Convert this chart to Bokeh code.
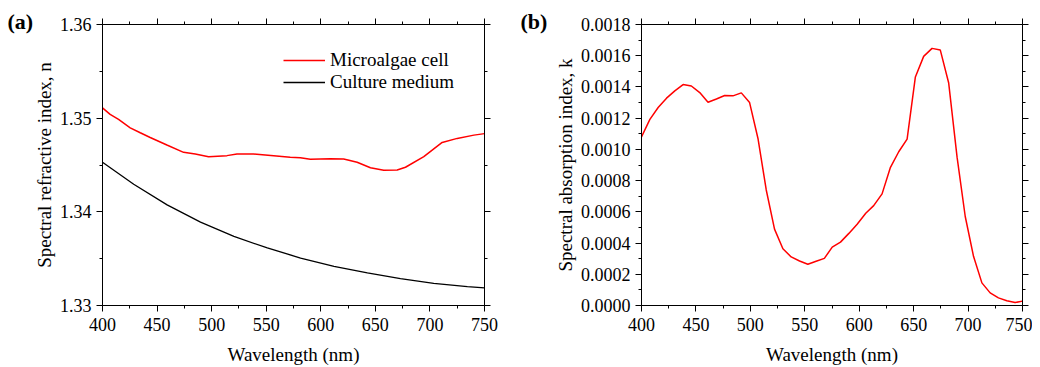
from bokeh.plotting import figure
from bokeh.models import (Range1d, LinearAxis, SingleIntervalTicker, NumeralTickFormatter,
                          CustomJSTickFormatter, Legend, LegendItem, Label)
from bokeh.layouts import row
from bokeh.embed import file_html
from bokeh.resources import INLINE

# ---- data: panel (a) spectral refractive index ----
wl_cell = [400, 407, 414.7, 425.4, 434.6, 443.7, 459, 474.3, 485, 497.2, 514, 523.2, 538.4,
           556.8, 572, 581.3, 590.4, 608.8, 621, 633.3, 645.5, 657.7, 670, 677.6, 694.4,
           711.2, 725, 740.3, 750]
n_cell = [1.3511, 1.3504, 1.34986, 1.34897, 1.34844, 1.34794, 1.34713, 1.34635, 1.34617,
          1.34589, 1.34600, 1.34617, 1.34617, 1.34600, 1.34582, 1.34578, 1.34561, 1.34567,
          1.34564, 1.34529, 1.34471, 1.34444, 1.34447, 1.34476, 1.34589, 1.34741, 1.34784,
          1.34819, 1.34835]

wl_medium = [400, 428.6, 459.2, 489.8, 520.4, 551, 581.5, 612.1, 642.7, 673, 703.5, 734.3, 750]
n_medium = [1.34529, 1.34295, 1.34074, 1.3389, 1.33737, 1.33614, 1.33507, 1.33418, 1.33348,
            1.33287, 1.33237, 1.33202, 1.33188]

# ---- data: panel (b) spectral absorption index ----
wl_k = [400, 407.7, 415.3, 423, 430.6, 438.2, 445.8, 453.5, 461.1, 468.8, 476.4, 484, 491.7,
        499.3, 507, 514.6, 522.2, 529.9, 537.5, 545.2, 552.8, 560.4, 568, 575.2, 582.8, 590.5,
        598.1, 606, 613.3, 621, 628.7, 636.3, 644, 651.6, 659.2, 666.9, 674.5, 682.2, 689.9,
        697.4, 705, 712.7, 720.3, 727.9, 735.6, 743.2, 750]
k_cell = [0.00108, 0.001192, 0.001268, 0.001328, 0.001375, 0.001415, 0.001406, 0.001364,
          0.001302, 0.001323, 0.001345, 0.001343, 0.001362, 0.0013, 0.00107, 0.00074,
          0.000489, 0.000364, 0.000311, 0.000285, 0.000264, 0.000283, 0.000302, 0.000374,
          0.000406, 0.000462, 0.000521, 0.000591, 0.00064, 0.000715, 0.000885, 0.000985,
          0.001066, 0.001464, 0.001596, 0.001647, 0.001636, 0.001425, 0.00095, 0.00057,
          0.000315, 0.000145, 0.000081, 0.000049, 0.00003, 0.000019, 0.000028]

FONT = "Liberation Serif"
TICK_SIZE = "18px"
LABEL_SIZE = "19px"


def style_axis(ax, show_labels=True):
    ax.axis_line_color = "black"
    ax.axis_line_width = 1
    ax.major_tick_line_color = "black"
    ax.minor_tick_line_color = "black"
    ax.major_tick_out = 6
    ax.major_tick_in = 0
    ax.minor_tick_out = 3
    ax.minor_tick_in = 0
    ax.major_label_text_font = FONT
    ax.axis_label_text_font = FONT
    ax.axis_label_text_font_style = "normal"
    ax.axis_label_text_font_size = LABEL_SIZE
    ax.axis_label_text_color = "black"
    ax.major_label_text_color = "black"
    ax.major_label_text_font_size = TICK_SIZE
    if show_labels:
        ax.major_label_standoff = 5
    else:
        ax.formatter = CustomJSTickFormatter(code="return ''")
        ax.major_label_standoff = 0


def make_fig(width, y0, y1, yint, yfmt, ylabel, border_left, border_right):
    p = figure(width=width, height=367, output_backend="svg", toolbar_location=None,
               x_range=Range1d(400, 750), y_range=Range1d(y0, y1),
               x_axis_location=None, y_axis_location=None,
               min_border_left=border_left, min_border_right=border_right,
               min_border_top=24, min_border_bottom=61)
    p.grid.visible = False
    p.outline_line_color = None
    p.background_fill_color = "white"
    p.border_fill_color = "white"

    xt = SingleIntervalTicker(interval=50, num_minor_ticks=2)
    yt = SingleIntervalTicker(interval=yint, num_minor_ticks=2)

    xb = LinearAxis(ticker=xt, axis_label="Wavelength (nm)")
    style_axis(xb)
    xb.major_label_standoff = 6
    xb.axis_label_standoff = 10
    p.add_layout(xb, "below")
    xa = LinearAxis(ticker=xt)
    style_axis(xa, False)
    p.add_layout(xa, "above")

    yl = LinearAxis(ticker=yt, axis_label=ylabel, formatter=NumeralTickFormatter(format=yfmt))
    style_axis(yl)
    yl.axis_label_standoff = 2
    p.add_layout(yl, "left")
    yr = LinearAxis(ticker=yt)
    style_axis(yr, False)
    p.add_layout(yr, "right")
    return p


def panel_label(p, text, dx):
    p.add_layout(Label(x=dx, y=284, x_units="screen", y_units="screen", text=text,
                       text_font=FONT, text_font_size="22px", text_font_style="bold",
                       text_baseline="middle", text_align="left", text_color="black"), "left")


# Panel (a)
pa = make_fig(520, 1.33, 1.36, 0.01, "0.00", "Spectral refractive index, n", 102, 36)
r1 = pa.line(wl_cell, n_cell, line_color="#ff0000", line_width=1.5)
r2 = pa.line(wl_medium, n_medium, line_color="black", line_width=1.3)
leg = Legend(items=[LegendItem(label="Microalgae cell", renderers=[r1]),
                    LegendItem(label="Culture medium", renderers=[r2])],
             location=(181, 212))
leg.border_line_color = None
leg.background_fill_alpha = 0
leg.padding = 0
leg.margin = 0
leg.spacing = 0
leg.glyph_width = 42
leg.glyph_height = 18
leg.label_height = 18
leg.label_standoff = 5
leg.label_text_font = FONT
leg.label_text_font_size = LABEL_SIZE
leg.label_text_color = "black"
pa.add_layout(leg, "center")
panel_label(pa, "(a)", 3)

# Panel (b)
pb = make_fig(512, 0, 0.00180001, 0.0002, "0.0000", "Spectral absorption index, k", 121, 10)
pb.line(wl_k, k_cell, line_color="#ff0000", line_width=1.5)
panel_label(pb, "(b)", -4)

layout = row(pa, pb)
open("out.html", "w").write(file_html(layout, INLINE))
